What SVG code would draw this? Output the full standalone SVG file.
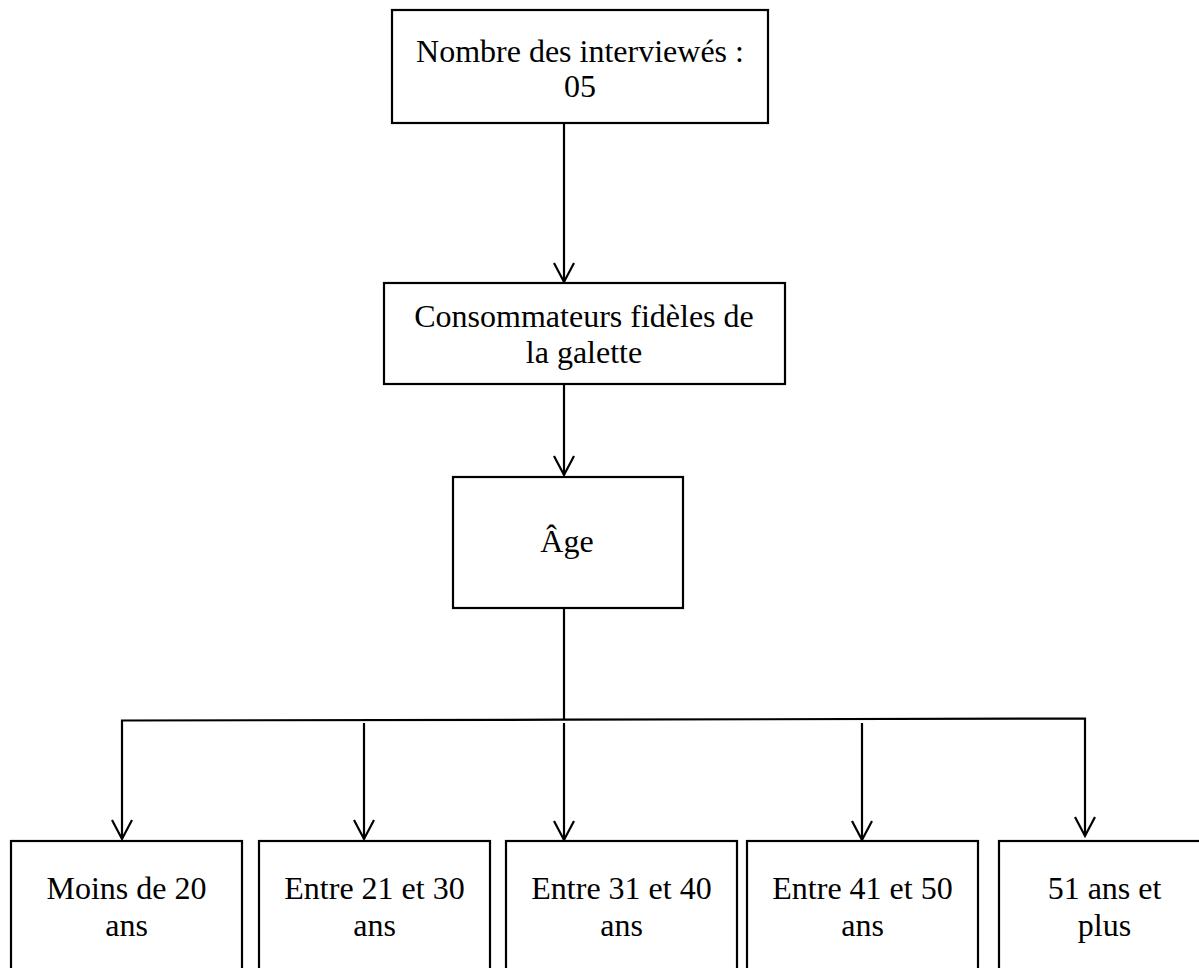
<svg xmlns="http://www.w3.org/2000/svg" width="1199" height="968" viewBox="0 0 1199 968">
<style>
.box{fill:#fff;stroke:#000;stroke-width:2.2}
.lbl{font-family:"Liberation Serif","Times New Roman",serif;font-size:32px;fill:#000;text-anchor:middle}
.con{fill:none;stroke:#000;stroke-width:2.2;stroke-linejoin:miter}
.arr{marker-end:url(#v)}
</style>
<defs>
<marker id="v" markerUnits="userSpaceOnUse" viewBox="-22 -12 24 24" refX="0" refY="0" markerWidth="24" markerHeight="24" orient="auto" overflow="visible">
<path d="M-19,-10 L0,0 L-19,10" fill="none" stroke="#000" stroke-width="2.2"/>
</marker>
</defs>
<rect width="1199" height="968" fill="#fff"/>
<g id="connectors">
<line class="con arr" x1="564" y1="123" x2="564" y2="282"/>
<line class="con arr" x1="564" y1="384" x2="564" y2="475"/>
<line class="con" x1="564" y1="608" x2="564" y2="720"/>
<path class="con arr" d="M564,719.7 L122,720.5 L122,839"/>
<path class="con arr" d="M564,719.7 L1085,718.5 L1085,836"/>
<line class="con arr" x1="364" y1="723" x2="364" y2="839"/>
<line class="con arr" x1="564" y1="723" x2="564" y2="840"/>
<line class="con arr" x1="862" y1="723" x2="862" y2="840"/>
</g>
<g id="n-interviewes">
<rect class="box" x="392" y="10" width="376" height="113"/>
<text class="lbl" x="580" y="62">Nombre des interviewés :</text>
<text class="lbl" x="580" y="97">05</text>
</g>
<g id="n-consommateurs">
<rect class="box" x="384" y="283" width="401" height="101"/>
<text class="lbl" x="584" y="327">Consommateurs fidèles de</text>
<text class="lbl" x="584" y="363">la galette</text>
</g>
<g id="n-age">
<rect class="box" x="453" y="477" width="230" height="131"/>
<text class="lbl" x="567" y="552">Âge</text>
</g>
<g id="n-moins20">
<rect class="box" x="11" y="841" width="231" height="140"/>
<text class="lbl" x="126.5" y="899">Moins de 20</text>
<text class="lbl" x="126.5" y="936">ans</text>
</g>
<g id="n-21-30">
<rect class="box" x="259" y="841" width="231" height="140"/>
<text class="lbl" x="374.5" y="899">Entre 21 et 30</text>
<text class="lbl" x="374.5" y="936">ans</text>
</g>
<g id="n-31-40">
<rect class="box" x="506" y="841" width="231" height="140"/>
<text class="lbl" x="621.5" y="899">Entre 31 et 40</text>
<text class="lbl" x="621.5" y="936">ans</text>
</g>
<g id="n-41-50">
<rect class="box" x="747" y="841" width="231" height="140"/>
<text class="lbl" x="862.5" y="899">Entre 41 et 50</text>
<text class="lbl" x="862.5" y="936">ans</text>
</g>
<g id="n-51plus">
<rect class="box" x="999" y="841" width="211" height="140"/>
<text class="lbl" x="1104.5" y="899">51 ans et</text>
<text class="lbl" x="1104.5" y="936">plus</text>
</g>
</svg>
